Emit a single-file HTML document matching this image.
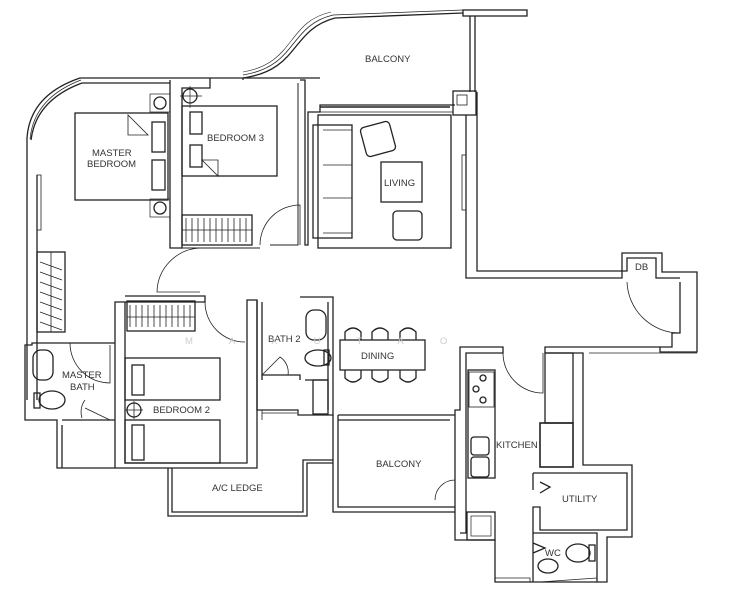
<!DOCTYPE html>
<html><head><meta charset="utf-8"><style>
html,body{margin:0;padding:0;background:#fff;}
svg{display:block;}
text{font-family:"Liberation Sans",sans-serif;fill:#333;font-size:9.5px;}
</style></head><body>
<svg width="737" height="600" viewBox="0 0 737 600" xmlns="http://www.w3.org/2000/svg">
<g fill="none" stroke="#222" stroke-width="1.3" stroke-linejoin="miter">
<!-- outer top-left curve and top wall -->
<path d="M27 400 L27 138 Q30 95 80 78 L320 78"/>
<path d="M37 400 L37 175 M31 140 Q36 100 82 83 L170 83"/>
<path d="M30 139 Q34 98 81 80" stroke-width="0.7"/>
<rect x="37" y="175" width="4" height="55" stroke-width="0.8"/>
<!-- top wavy balcony edge -->
<path d="M243 78 C300 70 290 30 335 18 L463 13"/>
<path d="M243 75 C298 66 288 26 333 15 L463 10" stroke-width="0.8"/>
<path d="M243 72 C296 63 286 22 331 12" stroke-width="0.6"/>
<rect x="463" y="10" width="64" height="6" fill="#fff"/>
<path d="M470 16 L470 92 M475 16 L475 92"/>
<!-- column -->
<rect x="453" y="91" width="23" height="24"/>
<rect x="457" y="95" width="10" height="10" stroke-width="0.8"/>
<!-- bedroom partitions -->
<path d="M170 80 L170 248 L182 248 L182 88 L210 88 L210 78"/>
<path d="M243 78 L243 80 M300 80 L305 80 L305 245 L308 245 L308 112 L320 112 L320 105 L455 105"/>
<path d="M298 83 L298 245 L270 245 M182 248 L260 248" stroke-width="1"/>
<path d="M320 112 L453 112" stroke-width="0.8"/>
<path d="M320 107 L450 107" stroke-width="1.6"/>
<!-- living right wall -->
<path d="M466 115 L466 278 L622 278 L622 253 L662 253 L662 272 L697 272 L697 352 L660 352 L660 347"/>
<path d="M477 92 L477 271 L627 271 L627 258 L656 258 L656 278 L680 278"/>
<rect x="462" y="155" width="4" height="55" stroke-width="0.8"/>
<path d="M680 282 L680 333 L672 333 L672 347 L545 347 L545 353 L583 353 L583 465 L632 465 L632 537 L607 537 L607 582 L495 582 L495 540 L455 540 L455 410 L460 410 L460 347 L503 347 L503 353 L466 353 L466 410" />
<path d="M589 353 L697 353" stroke-width="0.8"/>
<path d="M627 282 A53 53 0 0 0 680 333" stroke-width="0.8"/>
<path d="M466 410 L466 533 L460 533"/>
<!-- kitchen internals -->
<rect x="468" y="370" width="27" height="108"/>
<rect x="469" y="372" width="25" height="35" stroke-width="0.8"/>
<circle cx="483" cy="378" r="3"/><circle cx="476" cy="389" r="3"/><circle cx="483" cy="400" r="3"/>
<rect x="471" y="437" width="18" height="18" rx="3"/><rect x="471" y="457" width="18" height="20" rx="3"/>
<rect x="545" y="353" width="28" height="70"/>
<rect x="540" y="423" width="33" height="44" stroke-width="1.6"/>
<path d="M503 353 A40 40 0 0 0 543 393 L543 353" stroke-width="0.8"/>
<!-- utility and wc -->
<path d="M533 473 L627 473 L627 530 L540 530 L540 507 L533 507 L533 582 M533 473 L533 490"/>
<path d="M540 482 L550 487 L540 493" />
<path d="M533 533 L597 533 L597 582 M533 543 L545 548 L533 553"/>
<path d="M530 582 L530 578 L495 578 M540 582 L597 578" stroke-width="0.8"/>
<ellipse cx="578" cy="553" rx="12" ry="9"/><rect x="589" y="545" width="6" height="16"/>
<ellipse cx="548" cy="566" rx="10" ry="7"/>
<rect x="467" y="512" width="28" height="28"/><rect x="471" y="516" width="20" height="20" stroke-width="0.7"/>
<!-- lower balcony -->
<path d="M333 415 L333 512 L455 512 M338 415 L338 507 L455 507 M338 415 L455 415 M338 420 L450 420"/>
<path d="M455 480 A20 20 0 0 0 435 500" stroke-width="0.8"/>
<!-- dining -->
<rect x="340" y="340" width="85" height="30"/>
<path d="M345 340 v-8 q8 -8 16 0 v8 M372 340 v-8 q8 -8 16 0 v8 M400 340 v-8 q8 -8 16 0 v8"/>
<path d="M345 370 v8 q8 8 16 0 v-8 M372 370 v8 q8 8 16 0 v-8 M400 370 v8 q8 8 16 0 v-8"/>
<!-- BR2 -->
<path d="M115 468 L115 302 L205 302 L205 296 L125 296 M125 302 L125 463 L247 463 L247 300 L257 300 L257 468 L57 468 L57 420 L25 420 L25 345 L32 345 L32 343 L115 343"/>
<path d="M62 468 L62 425 M62 420 L115 420"/>
<rect x="127" y="301" width="68" height="30"/>
<path d="M130 305 v22 M136 305 v22 M142 305 v22 M148 305 v22 M154 305 v22 M160 305 v22 M166 305 v22 M172 305 v22 M178 305 v22 M184 305 v22 M190 305 v22 M127 317 h68" stroke-width="0.8"/>
<rect x="125" y="358" width="95" height="42"/>
<rect x="125" y="420" width="95" height="43"/>
<rect x="132" y="365" width="12" height="30"/><rect x="132" y="425" width="12" height="35"/>
<circle cx="134" cy="410" r="7"/><path d="M125 410 h18 M134 401 v18" stroke-width="0.8"/>
<path d="M205 302 A40 40 0 0 0 245 342" stroke-width="0.8"/>
<!-- master bath fixtures -->
<rect x="33" y="350" width="20" height="30" rx="8"/>
<ellipse cx="52" cy="400" rx="13" ry="9"/><rect x="34" y="393" width="6" height="15"/>
<path d="M85 408 L110 420 M85 400 A20 20 0 0 0 82 418" stroke-width="0.8"/>
<path d="M70 343 A40 40 0 0 0 110 383 L110 345" stroke-width="0.8"/>
<!-- master wardrobe -->
<rect x="37" y="252" width="28" height="80"/>
<path d="M51 252 V332 M40 262 L62 270 M40 272 L62 280 M40 282 L62 290 M40 292 L62 300 M40 302 L62 310 M40 312 L62 320 M40 322 L62 330" stroke-width="0.8"/>
<!-- BR3 wardrobe -->
<rect x="182" y="215" width="70" height="30"/>
<path d="M186 218 v24 M192 218 v24 M198 218 v24 M204 218 v24 M210 218 v24 M216 218 v24 M222 218 v24 M228 218 v24 M234 218 v24 M240 218 v24 M246 218 v24 M182 230 h70" stroke-width="0.8"/>
<path d="M260 245 A40 40 0 0 1 300 205 L300 245" stroke-width="0.8"/>
<path d="M200 248 A45 45 0 0 0 157 292 L200 292" stroke-width="0.8"/>
<!-- master bed -->
<rect x="75" y="113" width="93" height="87"/>
<rect x="152" y="122" width="13" height="30"/><rect x="152" y="160" width="13" height="30"/>
<path d="M128 115 L128 135 L148 135 Z" stroke-width="0.8"/>
<circle cx="160" cy="103" r="6"/><circle cx="160" cy="208" r="6"/>
<rect x="150" y="94" width="20" height="18" stroke-width="0.7"/><rect x="150" y="199" width="20" height="18" stroke-width="0.7"/>
<!-- BR3 bed -->
<rect x="182" y="106" width="95" height="70"/>
<rect x="190" y="112" width="12" height="22"/><rect x="190" y="145" width="12" height="22"/>
<path d="M202 160 L218 160 L218 176 Z" stroke-width="0.8"/>
<circle cx="190" cy="96" r="7"/><path d="M180 96 h22 M190 86 v22" stroke-width="0.7"/>
<!-- living furniture -->
<rect x="318" y="115" width="133" height="133"/>
<rect x="313" y="125" width="39" height="113"/>
<path d="M318 130 v103 M323 130 h29 M323 165 h29 M323 198 h29 M323 233 h29" stroke-width="0.8"/>
<rect x="363" y="124" width="30" height="30" rx="4" transform="rotate(-15 378 139)"/>
<rect x="381" y="162" width="41" height="40"/>
<rect x="393" y="211" width="29" height="29" rx="4"/>
<!-- bath 2 -->
<path d="M257 300 L257 410 L298 410 L298 415 L333 415 L333 297 L300 297 M262 302 L262 380 M262 375 L300 375 L300 380 M305 380 L328 380 M328 302 L328 410"/>
<rect x="306" y="310" width="20" height="30" rx="8"/>
<ellipse cx="318" cy="358" rx="13" ry="8"/><rect x="324" y="350" width="5" height="15"/>
<rect x="313" y="380" width="15" height="34"/>
<path d="M262 375 L280 357 A18 18 0 0 1 288 375" stroke-width="0.8"/>
<path d="M262 420 L262 410 M262 413 L297 413" stroke-width="0.8"/>
<!-- A/C ledge -->
<path d="M168 468 L168 516 L307 516 L307 463 L333 463 M172 468 L172 512 L303 512 L303 460 L333 460"/>
</g>
<g font-size="9.5">
<text x="365" y="62">BALCONY</text>
<text x="207" y="141">BEDROOM 3</text>
<text x="92" y="156">MASTER</text>
<text x="87" y="167">BEDROOM</text>
<text x="384" y="186">LIVING</text>
<text x="635" y="270" font-size="8">DB</text>
<text x="268" y="342">BATH 2</text>
<text x="361" y="359">DINING</text>
<text x="62" y="378">MASTER</text>
<text x="70" y="390">BATH</text>
<text x="153" y="413">BEDROOM 2</text>
<text x="496" y="448">KITCHEN</text>
<text x="376" y="467">BALCONY</text>
<text x="212" y="491">A/C LEDGE</text>
<text x="562" y="502">UTILITY</text>
<text x="545" y="556">WC</text>
</g>
<text x="185" y="344" font-size="17" fill="#ccc" style="fill:#ccc;letter-spacing:36px">MAXUTAO</text>
</svg>
</body></html>
